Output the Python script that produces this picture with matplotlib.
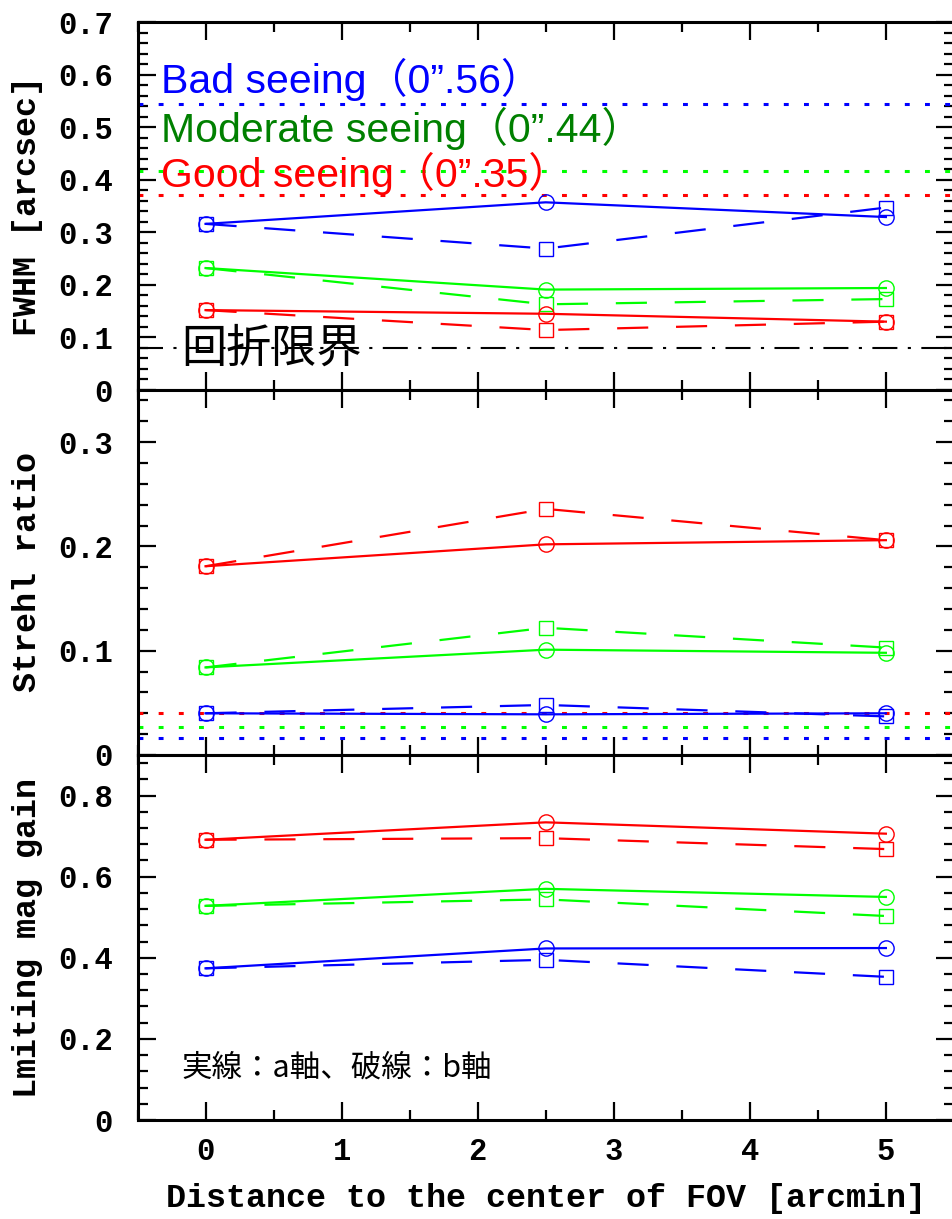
import numpy as np
import matplotlib
matplotlib.use('Agg')
import matplotlib.pyplot as plt
from matplotlib.ticker import MultipleLocator, FuncFormatter

# distance from the centre of the field (arcmin)
dist = [0, 2.5, 5]

# FWHM [arcsec] : a axis (solid) / b axis (dashed)
fwhm_bad_a = [0.316, 0.357, 0.329]
fwhm_bad_b = [0.316, 0.269, 0.347]
fwhm_mod_a = [0.232, 0.191, 0.194]
fwhm_mod_b = [0.232, 0.163, 0.173]
fwhm_good_a = [0.152, 0.145, 0.130]
fwhm_good_b = [0.152, 0.114, 0.130]
fwhm_seeing = [0.544, 0.417, 0.371]   # bad, moderate, good
fwhm_diffraction = 0.080

# Strehl ratio
sr_bad_a = [0.040, 0.039, 0.040]
sr_bad_b = [0.040, 0.048, 0.037]
sr_mod_a = [0.084, 0.101, 0.098]
sr_mod_b = [0.084, 0.122, 0.103]
sr_good_a = [0.181, 0.202, 0.206]
sr_good_b = [0.181, 0.236, 0.206]
sr_seeing = [0.0165, 0.027, 0.040]    # bad, moderate, good

# limiting magnitude gain
mag_bad_a = [0.374, 0.423, 0.424]
mag_bad_b = [0.374, 0.395, 0.353]
mag_mod_a = [0.528, 0.570, 0.550]
mag_mod_b = [0.528, 0.544, 0.503]
mag_good_a = [0.691, 0.734, 0.706]
mag_good_b = [0.691, 0.695, 0.668]

seeing_names = ['Bad seeing（0”.56）', 'Moderate seeing（0”.44）', 'Good seeing（0”.35）']
seeing_colors = ['#0000ff', '#00ff00', '#ff0000']
text_colors = ['#0000ff', '#008000', '#ff0000']

W, H = 952, 1219
fig = plt.figure(figsize=(W / 100, H / 100), dpi=100)

left = 137.5 / W
width = 1.002 - left
def frac(top, bottom):
    return [left, 1 - bottom / H, width, (bottom - top) / H]

ax1 = fig.add_axes(frac(22, 390))
ax2 = fig.add_axes(frac(390, 755))
ax3 = fig.add_axes(frac(755, 1120))

mono = 'Liberation Mono'
lw = 1.6
dash = (0, (14.0, 12.5))
dot = (0, (1.6, 5.0))

def fmt(v, pos):
    return '0' if abs(v) < 1e-9 else f'{v:g}'

def style(ax, ymax, major, minor):
    ax.set_xlim(-0.5, 5.5)
    ax.set_ylim(0, ymax)
    ax.xaxis.set_major_locator(MultipleLocator(1))
    ax.xaxis.set_minor_locator(MultipleLocator(0.5))
    ax.yaxis.set_major_locator(MultipleLocator(major))
    ax.yaxis.set_minor_locator(MultipleLocator(minor))
    ax.yaxis.set_major_formatter(FuncFormatter(fmt))
    ax.tick_params(which='both', direction='in', top=True, right=True, width=1.6)
    ax.tick_params(which='major', length=13)
    ax.tick_params(which='minor', length=7)
    ax.tick_params(axis='y', pad=18)
    ax.tick_params(axis='x', pad=12)
    for lab in ax.get_yticklabels() + ax.get_xticklabels():
        lab.set_fontfamily(mono)
        lab.set_fontsize(22)
        lab.set_fontweight('bold')
    for sp in ax.spines.values():
        sp.set_linewidth(2.2)

def pair(ax, ya, yb, color):
    ax.plot(dist, ya, color=color, lw=lw, marker='o', ms=11, mfc='none', mew=1.0, zorder=3)
    ax.plot(dist, yb, color=color, lw=lw, ls=dash, marker='s', ms=9.5, mfc='none', mew=1.0, zorder=3)

def ylab(ax, text):
    ax.set_ylabel(text, fontfamily=mono, fontsize=24, fontweight='bold')
    ax.yaxis.set_label_coords((28 - 137.5) / 815, 0.5)
    ax.yaxis.label.set_verticalalignment('center')

# FWHM panel
for yv, c in zip(fwhm_seeing, seeing_colors):
    ax1.axhline(yv, color=c, lw=2.2, ls=dot, zorder=2)
ax1.axhline(fwhm_diffraction, color='black', lw=1.5, ls=(0, (12, 5, 1.5, 5)), zorder=2)
pair(ax1, fwhm_bad_a, fwhm_bad_b, seeing_colors[0])
pair(ax1, fwhm_mod_a, fwhm_mod_b, seeing_colors[1])
pair(ax1, fwhm_good_a, fwhm_good_b, seeing_colors[2])
for name, c, yb in zip(seeing_names, text_colors, [0.5646, 0.4715, 0.386]):
    ax1.text(-0.33, yb, name, color=c, fontsize=29.5, va='baseline', ha='left',
             family=['Liberation Sans', 'Noto Sans CJK JP'], zorder=4)
ax1.text(-0.175, 0.079, '回折限界', fontsize=32.5, va='center', ha='left',
         family=['Noto Sans CJK JP'], zorder=4)
style(ax1, 0.7, 0.1, 0.02)
ax1.tick_params(axis='x', labelbottom=False)
ylab(ax1, 'FWHM [arcsec]')

# Strehl ratio panel
for yv, c in zip(sr_seeing, seeing_colors):
    ax2.axhline(yv, color=c, lw=2.2, ls=dot, zorder=2)
pair(ax2, sr_good_a, sr_good_b, seeing_colors[2])
pair(ax2, sr_mod_a, sr_mod_b, seeing_colors[1])
pair(ax2, sr_bad_a, sr_bad_b, seeing_colors[0])
style(ax2, 0.35, 0.1, 0.02)
ax2.tick_params(axis='x', labelbottom=False)
ylab(ax2, 'Strehl ratio')

# limiting magnitude panel
pair(ax3, mag_good_a, mag_good_b, seeing_colors[2])
pair(ax3, mag_mod_a, mag_mod_b, seeing_colors[1])
pair(ax3, mag_bad_a, mag_bad_b, seeing_colors[0])
ax3.text(-0.175, 0.128, '実線：a軸、破線：b軸', fontsize=22, va='center', ha='left',
         family=['Noto Sans CJK JP'], zorder=4)
style(ax3, 0.9, 0.2, 0.04)
ylab(ax3, 'Lmiting mag gain')
ax3.set_xlabel('Distance to the center of FOV [arcmin]', fontfamily=mono, fontsize=24,
               fontweight='bold')
ax3.xaxis.set_label_coords(0.5, (1120 - 1198) / 365)
ax3.xaxis.label.set_verticalalignment('center')

fig.savefig('out.png', dpi=100)
